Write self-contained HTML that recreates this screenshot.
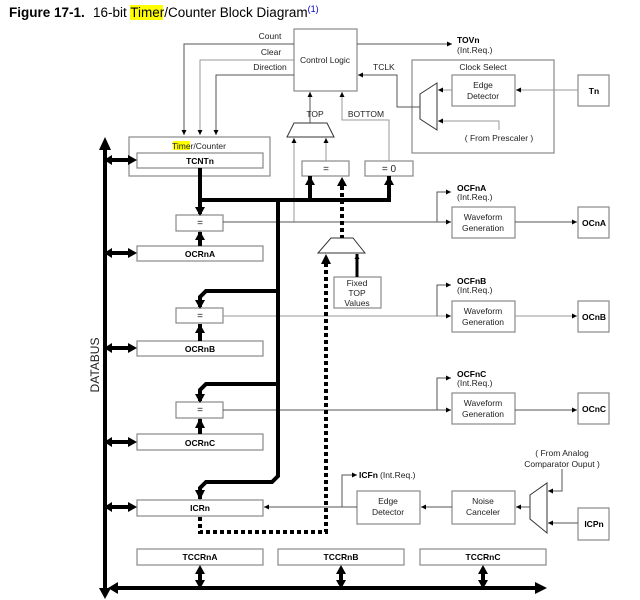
<!DOCTYPE html>
<html><head><meta charset="utf-8"><style>
body{margin:0;background:#fff;width:640px;height:600px;overflow:hidden}
svg{display:block;font-family:"Liberation Sans",sans-serif}
</style></head><body>
<svg width="640" height="600" viewBox="0 0 640 600" xmlns="http://www.w3.org/2000/svg">
<defs>
<marker id="a" viewBox="0 0 10 10" refX="10" refY="5" markerWidth="7" markerHeight="5" orient="auto" markerUnits="userSpaceOnUse"><path d="M0,0L10,5L0,10z" fill="#000"/></marker>
</defs>
<text x="9" y="17" font-size="13.5" font-weight="bold">Figure 17-1.</text>
<rect x="130" y="5" width="33" height="15" fill="#ffff00"/>
<text x="93" y="17" font-size="13.5">16-bit Timer/Counter Block Diagram<tspan font-size="9" dy="-5" fill="#0000cc">(1)</tspan></text>

<g fill="none" stroke="#888" stroke-width="1.2">
<rect x="294" y="29" width="63" height="62"/>
<rect x="412" y="60" width="142" height="93"/>
<rect x="452" y="75" width="63" height="31"/>
<rect x="578" y="75" width="31" height="31"/>
<rect x="129" y="137" width="141" height="39"/>
<rect x="137" y="153" width="126" height="15"/>
<rect x="302" y="161" width="47" height="15"/>
<rect x="365" y="161" width="48" height="15"/>
<rect x="176" y="215" width="47" height="16"/>
<rect x="137" y="246" width="126" height="15"/>
<rect x="334" y="277" width="47" height="31"/>
<rect x="176" y="308" width="47" height="15"/>
<rect x="137" y="341" width="126" height="15"/>
<rect x="176" y="402" width="47" height="16"/>
<rect x="137" y="434" width="126" height="16"/>
<rect x="137" y="500" width="126" height="16"/>
<rect x="357" y="491" width="63" height="33"/>
<rect x="452" y="491" width="63" height="33"/>
<rect x="578" y="508" width="31" height="32"/>
<rect x="452" y="207" width="63" height="31"/>
<rect x="578" y="207" width="31" height="31"/>
<rect x="452" y="301" width="63" height="31"/>
<rect x="578" y="301" width="31" height="31"/>
<rect x="452" y="393" width="63" height="31"/>
<rect x="578" y="393" width="31" height="31"/>
<rect x="137" y="549" width="126" height="16"/>
<rect x="278" y="549" width="126" height="16"/>
<rect x="420" y="549" width="126" height="16"/>
</g>
<g fill="none" stroke="#333" stroke-width="1">
<polygon points="420,94 437,83 437,130 420,119"/>
<polygon points="294,123 327,123 334,137 287,137"/>
<polygon points="331,238 353,238 365,253 318,253"/>
<polygon points="530,495 547,483 547,533 530,519"/>
</g>
<g fill="none" stroke="#555" stroke-width="1">
<polyline points="294,44 184,44 184,135" marker-end="url(#a)"/>
<polyline points="294,60 200,60 200,135" marker-end="url(#a)" stroke="#999"/>
<polyline points="294,75 216,75 216,135" marker-end="url(#a)"/>
<line x1="357" y1="44" x2="452" y2="44" marker-end="url(#a)"/>
<polyline points="420,107 397,107 397,75 358,75" marker-end="url(#a)"/>
<line x1="452" y1="90" x2="438" y2="90" marker-end="url(#a)" stroke="#999"/>
<line x1="578" y1="90" x2="516" y2="90" marker-end="url(#a)" stroke="#999"/>
<polyline points="499,130 499,121 438,121" marker-end="url(#a)" stroke="#999"/>
<line x1="310" y1="123" x2="310" y2="92" marker-end="url(#a)"/>
<polyline points="389,161 389,120 342,120 342,92" marker-end="url(#a)" stroke="#999"/>
<line x1="326" y1="161" x2="326" y2="138" marker-end="url(#a)" stroke="#999"/>
<polyline points="294,222 294,138" marker-end="url(#a)" stroke="#999"/>
<line x1="223" y1="222" x2="451" y2="222" marker-end="url(#a)"/>
<polyline points="437,222 437,192 451,192" marker-end="url(#a)"/>
<line x1="515" y1="222" x2="577" y2="222" marker-end="url(#a)"/>
<line x1="223" y1="316" x2="451" y2="316" marker-end="url(#a)" stroke="#999"/>
<polyline points="437,316 437,285 451,285" marker-end="url(#a)"/>
<line x1="515" y1="316" x2="577" y2="316" marker-end="url(#a)" stroke="#999"/>
<line x1="223" y1="410" x2="451" y2="410" marker-end="url(#a)"/>
<polyline points="437,410 437,378 451,378" marker-end="url(#a)"/>
<line x1="515" y1="410" x2="577" y2="410" marker-end="url(#a)"/>
<line x1="357" y1="507" x2="264" y2="507" marker-end="url(#a)"/>
<polyline points="342,507 342,475 357,475" marker-end="url(#a)"/>
<line x1="452" y1="507" x2="421" y2="507" marker-end="url(#a)"/>
<line x1="530" y1="507" x2="516" y2="507" marker-end="url(#a)"/>
<line x1="578" y1="523" x2="548" y2="523" marker-end="url(#a)"/>
<polyline points="562,469 562,491 548,491" marker-end="url(#a)"/>
<line x1="357" y1="277" x2="357" y2="254" stroke="#000" stroke-width="3" marker-end="url(#a)"/>
</g>
<g fill="none" stroke="#000" stroke-width="4">
<polyline points="200,168 200,200 389,200 389,176" />
<line x1="200" y1="200" x2="200" y2="214"/>
<line x1="310" y1="200" x2="310" y2="176"/>
<polyline points="278,200 278,476 272,482 206,482 200,488 200,499"/>
<polyline points="278,291 206,291 200,297 200,307"/>
<polyline points="278,384 206,384 200,390 200,401"/>
<line x1="200" y1="246" x2="200" y2="232"/>
<line x1="200" y1="341" x2="200" y2="324"/>
<line x1="200" y1="434" x2="200" y2="419"/>
<line x1="105" y1="145" x2="105" y2="592"/>
<line x1="112" y1="588" x2="538" y2="588"/>
<line x1="110" y1="160" x2="130" y2="160"/>
<line x1="110" y1="253" x2="130" y2="253"/>
<line x1="110" y1="348" x2="130" y2="348"/>
<line x1="110" y1="442" x2="130" y2="442"/>
<line x1="110" y1="507" x2="130" y2="507"/>
<line x1="200" y1="572" x2="200" y2="582"/>
<line x1="341" y1="572" x2="341" y2="582"/>
<line x1="483" y1="572" x2="483" y2="582"/>
</g>
<g fill="#000">
<path d="M195,207L205,207L200,216z"/>
<path d="M305,185L315,185L310,176z"/>
<path d="M384,185L394,185L389,176z"/>
<path d="M195,300L205,300L200,309z"/>
<path d="M195,394L205,394L200,403z"/>
<path d="M195,490L205,490L200,500z"/>
<path d="M195,240L205,240L200,231z"/>
<path d="M195,333L205,333L200,324z"/>
<path d="M195,428L205,428L200,418z"/>
<path d="M99,150L111,150L105,137z"/>
<path d="M99,588L111,588L105,599z"/>
<path d="M118,582L118,594L108,588z"/>
<path d="M535,582L535,594L547,588z"/>
<path d="M112,155L112,165L104,160z"/><path d="M128,155L128,165L137,160z"/>
<path d="M112,248L112,258L104,253z"/><path d="M128,248L128,258L137,253z"/>
<path d="M112,343L112,353L104,348z"/><path d="M128,343L128,353L137,348z"/>
<path d="M112,437L112,447L104,442z"/><path d="M128,437L128,447L137,442z"/>
<path d="M112,502L112,512L104,507z"/><path d="M128,502L128,512L137,507z"/>
<path d="M195,574L205,574L200,565z"/><path d="M195,580L205,580L200,589z"/>
<path d="M336,574L346,574L341,565z"/><path d="M336,580L346,580L341,589z"/>
<path d="M478,574L488,574L483,565z"/><path d="M478,580L488,580L483,589z"/>
<path d="M337,186L347,186L342,177z"/>
<path d="M321,264L331,264L326,254z"/>
</g>
<g fill="none" stroke="#000" stroke-width="4" stroke-dasharray="4,3">
<line x1="342" y1="186" x2="342" y2="238"/>
<polyline points="200,517 200,532 326,532 326,262"/>
</g>
<g font-size="8.5" fill="#222" text-anchor="middle">
<text x="325" y="63">Control Logic</text>
<text x="270" y="39">Count</text>
<text x="271" y="55">Clear</text>
<text x="270" y="70">Direction</text>
<text x="373" y="70" text-anchor="start">TCLK</text>
<text x="483" y="70">Clock Select</text>
<text x="483" y="88">Edge</text><text x="483" y="99">Detector</text>
<text x="499" y="141">( From Prescaler )</text>
<text x="315" y="117">TOP</text>
<text x="366" y="117">BOTTOM</text>
<rect x="173" y="141" width="17" height="9" fill="#ffff00"/>
<text x="199" y="149">Timer/Counter</text>
<text x="326" y="172" font-size="10">=</text>
<text x="389" y="172" font-size="10">= 0</text>
<text x="200" y="226" font-size="10">=</text>
<text x="200" y="319" font-size="10">=</text>
<text x="200" y="413" font-size="10">=</text>
<text x="357" y="286">Fixed</text><text x="357" y="296">TOP</text><text x="357" y="306">Values</text>
<text x="483" y="220">Waveform</text><text x="483" y="231">Generation</text>
<text x="483" y="314">Waveform</text><text x="483" y="325">Generation</text>
<text x="483" y="406">Waveform</text><text x="483" y="417">Generation</text>
<text x="388" y="504">Edge</text><text x="388" y="515">Detector</text>
<text x="483" y="504">Noise</text><text x="483" y="515">Canceler</text>
<text x="562" y="456">( From Analog</text>
<text x="562" y="467">Comparator Ouput )</text>
<text x="457" y="53" text-anchor="start">(Int.Req.)</text>
<text x="457" y="200" text-anchor="start">(Int.Req.)</text>
<text x="457" y="293" text-anchor="start">(Int.Req.)</text>
<text x="457" y="386" text-anchor="start">(Int.Req.)</text>
<text x="380" y="478" text-anchor="start">(Int.Req.)</text>
</g>
<g font-size="8.5" font-weight="bold" fill="#000" text-anchor="middle">
<text x="200" y="164">TCNTn</text>
<text x="200" y="257">OCRnA</text>
<text x="200" y="352">OCRnB</text>
<text x="200" y="446">OCRnC</text>
<text x="200" y="511">ICRn</text>
<text x="200" y="560">TCCRnA</text>
<text x="341" y="560">TCCRnB</text>
<text x="483" y="560">TCCRnC</text>
<text x="594" y="94">Tn</text>
<text x="594" y="226">OCnA</text>
<text x="594" y="320">OCnB</text>
<text x="594" y="412">OCnC</text>
<text x="594" y="527">ICPn</text>
<text x="457" y="43" text-anchor="start">TOVn</text>
<text x="457" y="191" text-anchor="start">OCFnA</text>
<text x="457" y="284" text-anchor="start">OCFnB</text>
<text x="457" y="377" text-anchor="start">OCFnC</text>
<text x="359" y="478" text-anchor="start">ICFn</text>
</g>
<text transform="translate(99,365) rotate(-90)" font-size="12" text-anchor="middle" fill="#222">DATABUS</text>
</svg>
</body></html>
